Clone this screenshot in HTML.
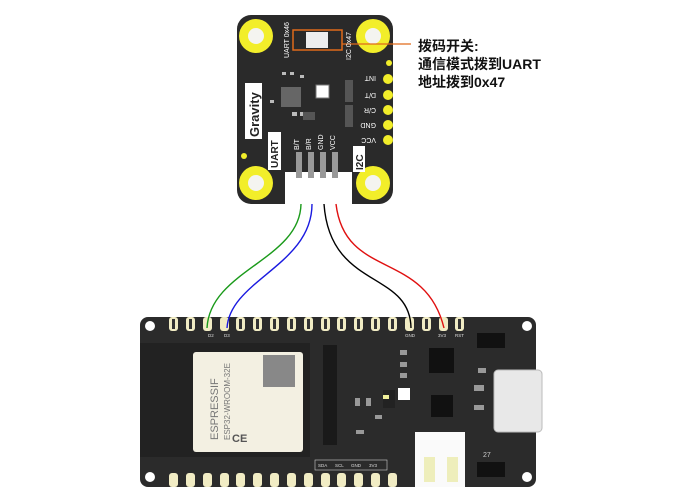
<!DOCTYPE html>
<html><head><meta charset="utf-8"><style>
html,body{margin:0;padding:0;background:#fff;width:700px;height:493px;overflow:hidden}
svg{display:block}
</style></head><body>
<svg width="700" height="493" viewBox="0 0 700 493" xmlns="http://www.w3.org/2000/svg" font-family="Liberation Sans, sans-serif">
<!-- sensor module -->
<rect x="237" y="15" width="156" height="189" rx="14" fill="#2a2a2a"/>
<g>
<circle cx="256" cy="36" r="17" fill="#f2ee2a"/><circle cx="256" cy="36" r="8" fill="#f4f4f0"/>
<circle cx="373" cy="36" r="17" fill="#f2ee2a"/><circle cx="373" cy="36" r="8" fill="#f4f4f0"/>
<circle cx="256" cy="183" r="17" fill="#f2ee2a"/><circle cx="256" cy="183" r="8" fill="#f4f4f0"/>
<circle cx="373" cy="183" r="17" fill="#f2ee2a"/><circle cx="373" cy="183" r="8" fill="#f4f4f0"/>
</g>
<rect x="293" y="30" width="49" height="20" fill="none" stroke="#e06a1a" stroke-width="1.5"/>
<rect x="306" y="32" width="22" height="16" fill="#eee"/>
<line x1="342" y1="44" x2="411" y2="44" stroke="#e06a1a" stroke-width="1.3"/>
<text transform="translate(289,58) rotate(-90)" font-size="7" fill="#fff">UART 0x46</text>
<text transform="translate(351,60) rotate(-90)" font-size="7" fill="#fff">I2C 0x47</text>
<rect x="281" y="87" width="20" height="20" fill="#666"/>
<rect x="316" y="85" width="13" height="13" fill="#fff" stroke="#777"/>
<g fill="#bbb"><rect x="282" y="72" width="4" height="3"/><rect x="290" y="72" width="4" height="3"/><rect x="300" y="75" width="4" height="3"/><rect x="292" y="112" width="5" height="4"/><rect x="300" y="112" width="5" height="4"/><rect x="270" y="100" width="4" height="3"/></g>
<g fill="#555"><rect x="345" y="80" width="8" height="22"/><rect x="345" y="105" width="8" height="22"/><rect x="303" y="112" width="12" height="8"/></g>
<rect x="245" y="83" width="17" height="56" fill="#fff"/>
<text transform="translate(259,137) rotate(-90)" font-size="13" font-weight="bold" fill="#222">Gravity</text>
<rect x="268" y="132" width="13" height="38" fill="#fff"/>
<text transform="translate(278,168) rotate(-90)" font-size="10" font-weight="bold" fill="#222">UART</text>
<rect x="353" y="146" width="12" height="26" fill="#fff"/>
<text transform="translate(363,170) rotate(-90)" font-size="10" font-weight="bold" fill="#222">I2C</text>
<g font-size="7" fill="#fff">
<text transform="translate(299,150) rotate(-90)">B/T</text>
<text transform="translate(311,150) rotate(-90)">B/R</text>
<text transform="translate(323,150) rotate(-90)">GND</text>
<text transform="translate(335,150) rotate(-90)">VCC</text>
<text transform="translate(376,76) rotate(180)">INT</text>
<text transform="translate(376,93) rotate(180)">D/T</text>
<text transform="translate(376,108) rotate(180)">C/R</text>
<text transform="translate(376,123) rotate(180)">GND</text>
<text transform="translate(376,138) rotate(180)">VCC</text>
</g>
<g fill="#f2ee2a"><circle cx="388" cy="79" r="5"/><circle cx="388" cy="95" r="5"/><circle cx="388" cy="110" r="5"/><circle cx="388" cy="125" r="5"/><circle cx="388" cy="140" r="5"/><circle cx="389" cy="63" r="3"/><circle cx="244" cy="156" r="3"/></g>
<rect x="285" y="172" width="67" height="32" fill="#fff"/>
<g fill="#999"><rect x="296" y="152" width="6" height="26"/><rect x="308" y="152" width="6" height="26"/><rect x="320" y="152" width="6" height="26"/><rect x="332" y="152" width="6" height="26"/></g>
<text x="418" y="51" font-size="14" font-weight="bold" fill="#111" font-family="Liberation Sans, Noto Sans CJK SC, sans-serif">拨码开关:</text>
<text x="418" y="69" font-size="14" font-weight="bold" fill="#111" font-family="Liberation Sans, Noto Sans CJK SC, sans-serif">通信模式拨到UART</text>
<text x="418" y="87" font-size="14" font-weight="bold" fill="#111" font-family="Liberation Sans, Noto Sans CJK SC, sans-serif">地址拨到0x47</text>
<!-- main board -->
<rect x="140" y="317" width="396" height="170" rx="8" fill="#2b2b2b"/>
<circle cx="150" cy="326" r="5" fill="#fff"/><circle cx="150" cy="477" r="5" fill="#fff"/>
<circle cx="527" cy="326" r="5" fill="#fff"/><circle cx="527" cy="477" r="5" fill="#fff"/>
<g fill="#f1ecc4">
<rect x="169" y="317" width="9" height="14" rx="3"/><rect x="186" y="317" width="9" height="14" rx="3"/><rect x="203" y="317" width="9" height="14" rx="3"/><rect x="220" y="317" width="9" height="14" rx="3"/><rect x="236" y="317" width="9" height="14" rx="3"/><rect x="253" y="317" width="9" height="14" rx="3"/><rect x="270" y="317" width="9" height="14" rx="3"/><rect x="287" y="317" width="9" height="14" rx="3"/><rect x="304" y="317" width="9" height="14" rx="3"/><rect x="321" y="317" width="9" height="14" rx="3"/><rect x="337" y="317" width="9" height="14" rx="3"/><rect x="354" y="317" width="9" height="14" rx="3"/><rect x="371" y="317" width="9" height="14" rx="3"/><rect x="388" y="317" width="9" height="14" rx="3"/><rect x="405" y="317" width="9" height="14" rx="3"/><rect x="422" y="317" width="9" height="14" rx="3"/><rect x="439" y="317" width="9" height="14" rx="3"/><rect x="455" y="317" width="9" height="14" rx="3"/>
<rect x="169" y="473" width="9" height="14" rx="3"/><rect x="186" y="473" width="9" height="14" rx="3"/><rect x="203" y="473" width="9" height="14" rx="3"/><rect x="220" y="473" width="9" height="14" rx="3"/><rect x="236" y="473" width="9" height="14" rx="3"/><rect x="253" y="473" width="9" height="14" rx="3"/><rect x="270" y="473" width="9" height="14" rx="3"/><rect x="287" y="473" width="9" height="14" rx="3"/><rect x="304" y="473" width="9" height="14" rx="3"/><rect x="321" y="473" width="9" height="14" rx="3"/><rect x="337" y="473" width="9" height="14" rx="3"/><rect x="354" y="473" width="9" height="14" rx="3"/><rect x="371" y="473" width="9" height="14" rx="3"/><rect x="388" y="473" width="9" height="14" rx="3"/>
</g>
<g fill="#333"><rect x="172" y="319" width="3" height="10"/><rect x="189" y="319" width="3" height="10"/><rect x="239" y="319" width="3" height="10"/><rect x="256" y="319" width="3" height="10"/><rect x="273" y="319" width="3" height="10"/><rect x="290" y="319" width="3" height="10"/><rect x="307" y="319" width="3" height="10"/><rect x="324" y="319" width="3" height="10"/><rect x="340" y="319" width="3" height="10"/><rect x="357" y="319" width="3" height="10"/><rect x="374" y="319" width="3" height="10"/><rect x="391" y="319" width="3" height="10"/><rect x="425" y="319" width="3" height="10"/><rect x="458" y="319" width="3" height="10"/></g>
<!-- wires -->
<g fill="none" stroke-width="1.4">
<path d="M301 204 C300 260 210 270 207 328" stroke="#1a9a1a"/>
<path d="M312 204 C312 265 230 280 227 328" stroke="#1a1ae0"/>
<path d="M324 204 C330 290 410 270 411 328" stroke="#000"/>
<path d="M336 204 C345 280 425 250 444 328" stroke="#e01010"/>
</g>
<!-- ESP module -->
<rect x="140" y="343" width="170" height="114" fill="#222"/>
<rect x="193" y="352" width="110" height="100" rx="3" fill="#f3f0e2"/>
<rect x="263" y="355" width="32" height="32" fill="#888"/>
<text transform="translate(218,440) rotate(-90)" font-size="11" fill="#777">ESPRESSIF</text>
<text transform="translate(230,440) rotate(-90)" font-size="8" fill="#777">ESP32-WROOM-32E</text>
<text x="232" y="442" font-size="11" fill="#555" font-weight="bold">CE</text>
<rect x="323" y="345" width="14" height="100" fill="#1a1a1a"/>
<!-- chips -->
<rect x="429" y="348" width="25" height="25" fill="#111"/>
<rect x="431" y="395" width="22" height="22" fill="#111"/>
<rect x="398" y="388" width="12" height="12" fill="#fff"/>
<rect x="383" y="390" width="12" height="18" fill="#222"/>
<rect x="383" y="395" width="6" height="4" fill="#ee9"/>
<g fill="#999"><rect x="400" y="350" width="7" height="5"/><rect x="400" y="362" width="7" height="5"/><rect x="400" y="373" width="7" height="5"/><rect x="355" y="398" width="5" height="8"/><rect x="366" y="398" width="5" height="8"/><rect x="375" y="415" width="7" height="4"/><rect x="356" y="430" width="8" height="4"/><rect x="474" y="385" width="10" height="6"/><rect x="474" y="405" width="10" height="5"/><rect x="478" y="368" width="8" height="5"/></g>
<!-- USB-C -->
<rect x="494" y="370" width="48" height="62" rx="4" fill="#e8e8e8" stroke="#bbb"/>
<rect x="477" y="333" width="28" height="15" fill="#111"/>
<rect x="477" y="462" width="28" height="15" fill="#111"/>
<text x="483" y="457" font-size="7" fill="#ccc">27</text>
<!-- JST -->
<rect x="415" y="432" width="50" height="55" fill="#fafafa"/>
<rect x="424" y="457" width="11" height="25" fill="#eeeebb"/>
<rect x="447" y="457" width="11" height="25" fill="#eeeebb"/>
<rect x="315" y="460" width="72" height="10" fill="none" stroke="#ccc" stroke-width="0.6"/>
<g font-size="4.5" fill="#ddd"><text x="318" y="467">SDA</text><text x="335" y="467">SCL</text><text x="351" y="467">GND</text><text x="369" y="467">3V3</text><text x="208" y="337">D2</text><text x="224" y="337">D3</text><text x="405" y="337">GND</text><text x="438" y="337">3V3</text><text x="455" y="337">RST</text></g>
</svg>
</body></html>
